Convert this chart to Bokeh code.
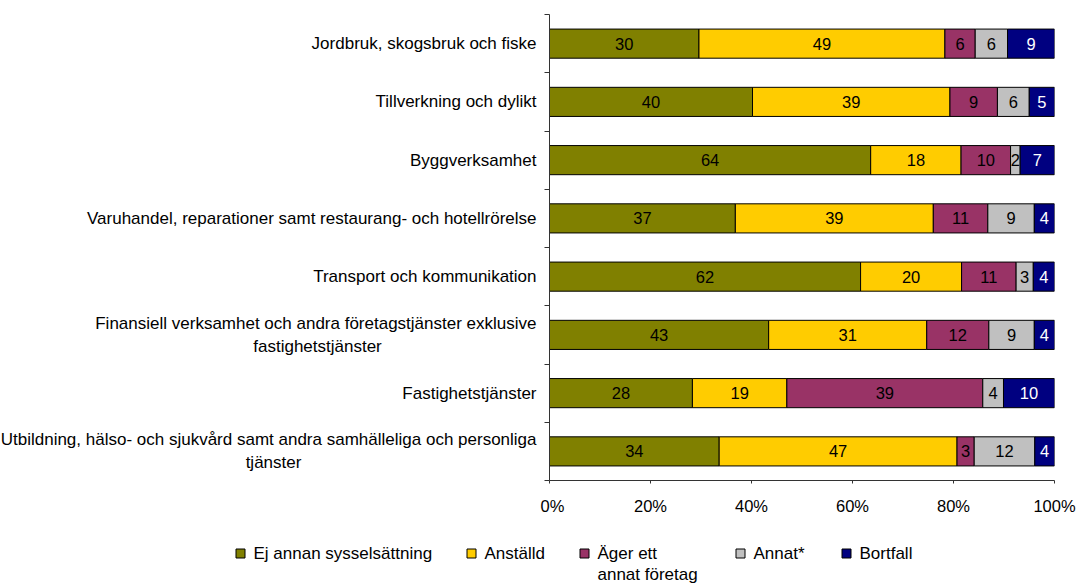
from bokeh.plotting import figure
from bokeh.layouts import column, row
from bokeh.models import (Range1d, FixedTicker, ColumnDataSource, PrintfTickFormatter)
from bokeh.core.properties import value
from bokeh.embed import file_html
from bokeh.resources import INLINE

# ---------------- data ----------------
categories = [
    "Jordbruk, skogsbruk och fiske",
    "Tillverkning och dylikt",
    "Byggverksamhet",
    "Varuhandel, reparationer samt restaurang- och hotellrörelse",
    "Transport och kommunikation",
    "Finansiell verksamhet och andra företagstjänster exklusive\nfastighetstjänster",
    "Fastighetstjänster",
    "Utbildning, hälso- och sjukvård samt andra samhälleliga och personliga\ntjänster",
]
series_names = ["Ej annan sysselsättning", "Anställd", "Äger ett\nannat företag", "Annat*", "Bortfall"]
ej_annan = [29.6, 40.2, 63.6, 36.8, 61.6, 43.4, 28.3, 33.6]
anstalld = [48.7, 39.1, 17.9, 39.2, 20.0, 31.3, 18.7, 47.1]
ager = [6.0, 9.4, 9.8, 10.8, 10.8, 12.3, 38.8, 3.4]
annat = [6.4, 6.3, 1.9, 9.2, 3.4, 9.0, 4.1, 12.0]
bortfall = [9.3, 5.0, 6.8, 4.0, 4.2, 4.0, 10.1, 3.9]
x_ticks = [0, 20, 40, 60, 80, 100]

# ---------------- styles / layout constants ----------------
colors = ["#808000", "#FFCC00", "#993366", "#C0C0C0", "#000080"]
label_colors = ["#000000", "#000000", "#000000", "#000000", "#FFFFFF"]
FONT = "Liberation Sans"
FS = "16.5px"      # values and tick labels
FS_CAT = "17px"    # category labels and legend
H = 517            # height of chart row
LH = 583 - H       # height of legend strip
W1 = 540           # width of category label column
LABEL_RIGHT = 536  # right edge of category labels
WRAP_CENTER = {5: 317, 7: 273}           # centre of wrapped (2-line) labels
LEGEND_X = [240, 471, 584, 740, 846]     # legend marker centres
LEGEND_Y = 36
LEGEND_LINE = 21

series = [ej_annan, anstalld, ager, annat, bortfall]
n = len(categories)
totals = [sum(s[i] for s in series) for i in range(n)]
ys = [i + 0.5 for i in range(n)]
yr = Range1d(n, 0)


def clean(f):
    f.outline_line_color = None
    f.xgrid.visible = False
    f.ygrid.visible = False
    f.background_fill_color = "white"
    f.border_fill_color = "white"


# ---------------- main chart ----------------
p = figure(width=1076 - W1, height=H, output_backend="svg", toolbar_location=None,
           x_range=Range1d(0, 100), y_range=yr,
           min_border_left=9, min_border_right=22, min_border_top=14, min_border_bottom=37)
clean(p)

lefts = [0.0] * n
for k, s in enumerate(series):
    pct = [s[i] / totals[i] * 100 for i in range(n)]
    rights = [lefts[i] + pct[i] for i in range(n)]
    src = ColumnDataSource(dict(
        y=ys, left=list(lefts), right=rights,
        xc=[(lefts[i] + rights[i]) / 2 for i in range(n)],
        lab=[f"{s[i]:.0f}" for i in range(n)],
    ))
    p.hbar(y="y", left="left", right="right", height=0.5, source=src,
           fill_color=colors[k], line_color="#000000", line_width=1)
    p.text(x="xc", y="y", text="lab", source=src, text_align="center",
           text_baseline="middle", text_font=value(FONT), text_font_size=FS,
           text_color=label_colors[k])
    lefts = rights

xa = p.xaxis[0]
xa.ticker = FixedTicker(ticks=x_ticks)
xa.formatter = PrintfTickFormatter(format="%d%%")
xa.major_tick_in = 0
xa.major_tick_out = 3
xa.minor_tick_line_color = None
xa.axis_line_color = "#333333"
xa.major_tick_line_color = "#333333"
xa.major_label_text_font = FONT
xa.major_label_text_font_size = FS
xa.major_label_text_color = "#000000"
xa.major_label_standoff = 13

ya = p.yaxis[0]
ya.ticker = FixedTicker(ticks=[], minor_ticks=list(range(n + 1)))
ya.major_tick_in = 0
ya.major_tick_out = 0
ya.minor_tick_in = 0
ya.minor_tick_out = 5
ya.axis_line_color = "#333333"
ya.minor_tick_line_color = "#333333"
ya.major_label_standoff = 0

# ---------------- category labels ----------------
cf = figure(width=W1, height=H, output_backend="svg", toolbar_location=None,
            x_range=Range1d(0, W1), y_range=yr,
            x_axis_location=None, y_axis_location=None,
            min_border_left=0, min_border_right=0, min_border_top=14, min_border_bottom=37)
clean(cf)
single = dict(x=[], y=[], t=[])
first = dict(x=[], y=[], t=[])
second = dict(x=[], y=[], t=[])
for i, c in enumerate(categories):
    lines = c.split("\n")
    if len(lines) == 1:
        single["x"].append(LABEL_RIGHT); single["y"].append(ys[i]); single["t"].append(c)
    else:
        first["x"].append(LABEL_RIGHT); first["y"].append(ys[i]); first["t"].append(lines[0])
        second["x"].append(WRAP_CENTER[i]); second["y"].append(ys[i]); second["t"].append(lines[1])
common = dict(text_baseline="middle", text_font=value(FONT), text_font_size=FS_CAT,
              text_color="#000000")
cf.text(x="x", y="y", text="t", source=ColumnDataSource(single), text_align="right", **common)
cf.text(x="x", y="y", text="t", source=ColumnDataSource(first), text_align="right",
        y_offset=-11.5, **common)
cf.text(x="x", y="y", text="t", source=ColumnDataSource(second), text_align="center",
        y_offset=11.5, **common)

# ---------------- legend strip ----------------
lg = figure(width=1076, height=LH, output_backend="svg", toolbar_location=None,
            x_range=Range1d(0, 1076), y_range=Range1d(LH, 0),
            x_axis_location=None, y_axis_location=None, min_border=0)
clean(lg)
mk = dict(x=[], y=[], c=[])
tx = dict(x=[], y=[], t=[])
for k, name in enumerate(series_names):
    mk["x"].append(LEGEND_X[k]); mk["y"].append(LEGEND_Y); mk["c"].append(colors[k])
    for j, line in enumerate(name.split("\n")):
        tx["x"].append(LEGEND_X[k] + 13); tx["y"].append(LEGEND_Y + j * LEGEND_LINE); tx["t"].append(line)
lg.scatter(x="x", y="y", source=ColumnDataSource(mk), marker="square", size=9,
           fill_color="c", line_color="#000000", line_width=1)
lg.text(x="x", y="y", text="t", source=ColumnDataSource(tx), text_align="left",
        text_baseline="middle", text_font=value(FONT), text_font_size=FS_CAT,
        text_color="#000000")

layout = column(row(cf, p, spacing=0), lg, spacing=0)
open("out.html", "w").write(file_html(layout, INLINE))
